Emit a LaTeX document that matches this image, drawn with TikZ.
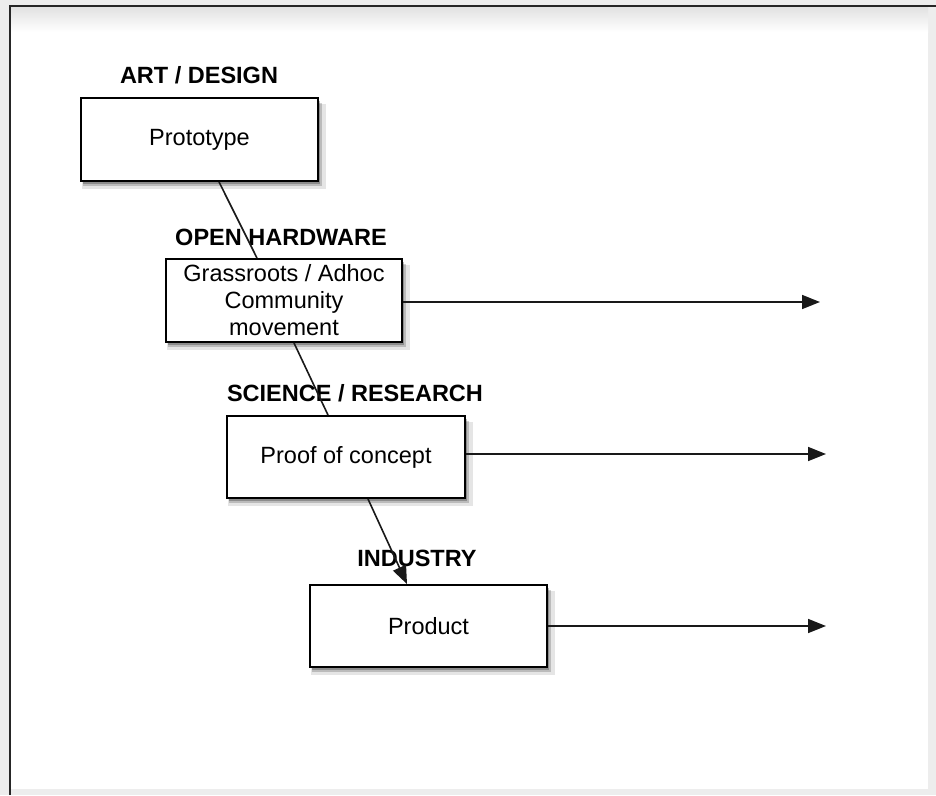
\documentclass[tikz,border=0pt]{standalone}
\usepackage{fontspec}
\setmainfont{Liberation Sans}
\usetikzlibrary{arrows.meta,shadows,calc}
\begin{document}
\begin{tikzpicture}[x=1pt,y=-1pt,
  box/.style={draw=black,line width=1.9pt,fill=white,inner sep=0pt,
    drop shadow={opacity=0.10,shadow xshift=4pt,shadow yshift=-7pt,shadow scale=1.03,fill=black},
    drop shadow={opacity=0.18,shadow xshift=3pt,shadow yshift=-5pt,shadow scale=1.01,fill=black},
    drop shadow={opacity=0.25,shadow xshift=2pt,shadow yshift=-3pt,fill=black},
    font=\fontsize{23.5}{27}\selectfont,align=center},
  lbl/.style={font=\bfseries\fontsize{23.5}{27}\selectfont,inner sep=0pt},
  conn/.style={line width=1.6pt,draw=black!90},
  arr/.style={conn,-{Triangle[length=18pt,width=14pt]}}]
\useasboundingbox (0,0) rectangle (936,795);
% page background and frame
\fill[black!7] (0,0) rectangle (936,795);
\fill[white] (10,6) rectangle (928,789);
\shade[top color=black!12,bottom color=white] (10,6) rectangle (928,32);
\draw[line width=2pt,black!85] (10,795) -- (10,6) -- (936,6);
% boxes
\node[box,minimum width=237pt,minimum height=83pt] (proto) at (199.5,139.5) {Prototype};
\node[box,minimum width=236pt,minimum height=83pt] (grass) at (284,300.5) {Grassroots / Adhoc\\Community\\movement};
\node[box,minimum width=238pt,minimum height=82pt] (proof) at (346,457) {Proof of concept};
\node[box,minimum width=237pt,minimum height=82pt] (prod) at (428.5,626) {Product};
% labels
\node[lbl] (lart) at (199,75) {ART / DESIGN};
\node[lbl] (lopen) at (281,237) {OPEN HARDWARE};
\node[lbl] (lsci) at (355,393) {SCIENCE / RESEARCH};
\node[lbl] (lind) at (417,558) {INDUSTRY};
% end coordinates
\coordinate (e1) at (820,302);
\coordinate (e2) at (826,454);
\coordinate (e3) at (826,626);
% connectors
\draw[conn] ([xshift=19.5pt]proto.south) -- ([xshift=-27pt]grass.north);
\draw[conn] ([xshift=10pt]grass.south) -- ([xshift=-18pt]proof.north);
\draw[arr] ([xshift=22pt]proof.south) -- ([xshift=-21.5pt]prod.north);
\draw[arr] (grass.east |- e1) -- (e1);
\draw[arr] (proof.east |- e2) -- (e2);
\draw[arr] (prod.east |- e3) -- (e3);
\end{tikzpicture}
\end{document}
